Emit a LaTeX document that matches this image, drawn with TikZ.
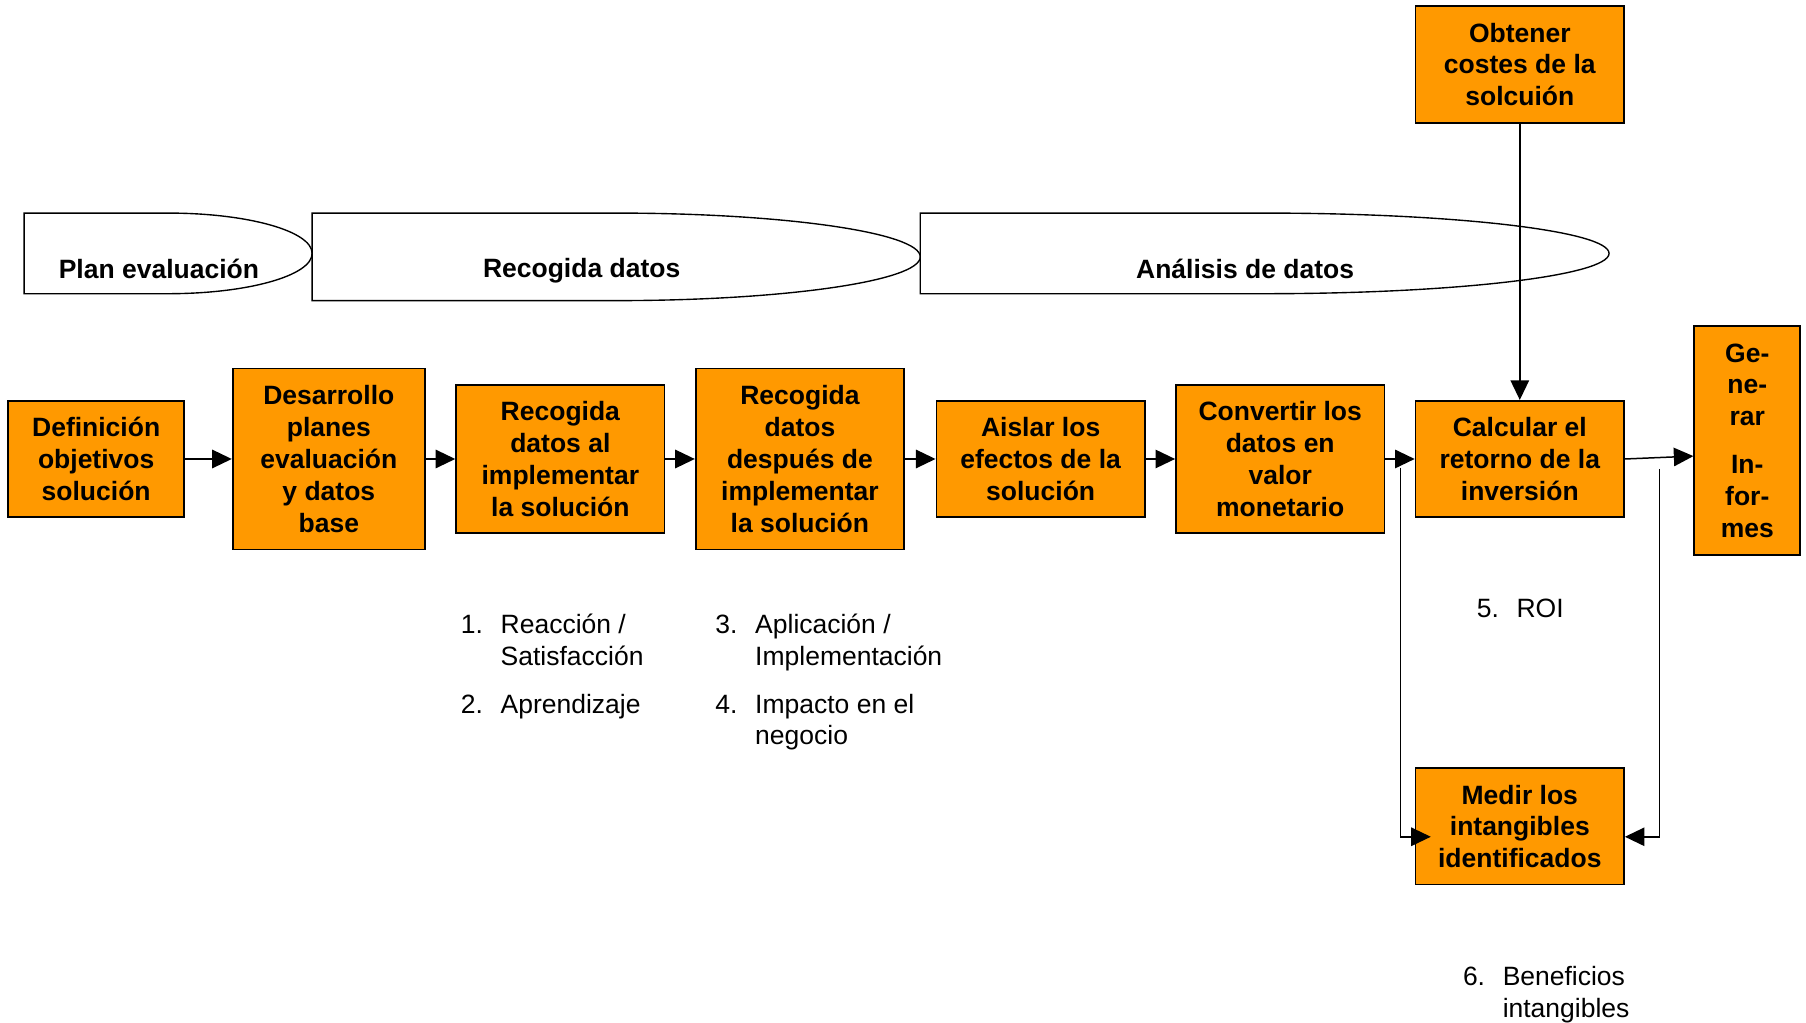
\documentclass[tikz,border=0pt]{standalone}
\usepackage{fontspec}
\setmainfont{Liberation Sans}
\usetikzlibrary{arrows.meta,calc}
\definecolor{boxorange}{RGB}{255,153,0}
\begin{document}
\begin{tikzpicture}[x=1pt,y=-1pt,
  txt/.style={font=\fontsize{23}{27.6}\selectfont},
  stepbox/.style={draw=black,line width=1.5pt,fill=boxorange,inner sep=0pt,align=center,
    font=\bfseries\fontsize{23}{27.6}\selectfont},
  banner/.style={draw=black,line width=1.2pt,fill=white},
  bannertext/.style={font=\bfseries\fontsize{23}{27.6}\selectfont,inner sep=0pt,anchor=base},
  listtext/.style={txt,inner sep=0pt,anchor=base west,align=left},
  conn/.style={line width=1.3pt},
  arr/.style={conn,-{Triangle[length=17pt,width=16pt]}}]
\useasboundingbox (0,0) rectangle (1568,888);

% phase banners: rectangle on the left, half ellipse on the right
\draw[banner] (21,185) -- (146,185) arc[start angle=-90,end angle=90,x radius=125,y radius=35]
  -- (21,255) -- cycle;
\draw[banner] (271,185) -- (535,185) arc[start angle=-90,end angle=90,x radius=264,y radius=38]
  -- (271,261) -- cycle;
\draw[banner] (799,185) -- (1098,185) arc[start angle=-90,end angle=90,x radius=299,y radius=35]
  -- (799,255) -- cycle;
\node[bannertext] (plan) at (138,242) {Plan evaluación};
\node[bannertext] (recog) at (505,241) {Recogida datos};
\node[bannertext] (anal) at (1081,242) {Análisis de datos};

% process steps
\node[stepbox,minimum width=153pt,minimum height=101pt] (def) at (83.5,398.5) {Definición\\objetivos\\solución};
\node[stepbox,minimum width=167pt,minimum height=157pt] (des) at (285.5,398.5) {Desarrollo\\planes\\evaluación\\y datos\\base};
\node[stepbox,minimum width=181pt,minimum height=129pt] (rec1) at (486.5,398.5) {Recogida\\datos al\\implementar\\la solución};
\node[stepbox,minimum width=181pt,minimum height=157pt] (rec2) at (694.5,398.5) {Recogida\\datos\\después de\\implementar\\la solución};
\node[stepbox,minimum width=181pt,minimum height=101pt] (ais) at (903.5,398.5) {Aislar los\\efectos de la\\solución};
\node[stepbox,minimum width=181pt,minimum height=129pt] (conv) at (1111.5,398.5) {Convertir los\\datos en\\valor\\monetario};
\node[stepbox,minimum width=181pt,minimum height=101pt] (calc) at (1319.5,398.5) {Calcular el\\retorno de la\\inversión};
\node[stepbox,minimum width=92pt,minimum height=199pt] (gen) at (1517,382.5) {Ge-\\ne-\\rar\\[14pt]In-\\for-\\mes};
\node[stepbox,minimum width=181pt,minimum height=102pt] (cost) at (1319.5,56) {Obtener\\costes de la\\solcuión};
\node[stepbox,minimum width=181pt,minimum height=101pt] (med) at (1319.5,717.5) {Medir los\\intangibles\\identificados};

% evaluation levels
\node[listtext] (lv12) at (400,550) {\begin{tabular}[t]{@{}p{34.5pt}@{}l@{}}1.&Reacción /\\&Satisfacción\\[14pt]2.&Aprendizaje\end{tabular}};
\node[listtext] (lv34) at (621,550) {\begin{tabular}[t]{@{}p{34.5pt}@{}l@{}}3.&Aplicación /\\&Implementación\\[14pt]4.&Impacto en el\\&negocio\end{tabular}};
\node[listtext] (lv5) at (1282,536) {\begin{tabular}[t]{@{}p{34.5pt}@{}l@{}}5.&ROI\end{tabular}};
\node[listtext] (lv6) at (1270,856) {\begin{tabular}[t]{@{}p{34.5pt}@{}l@{}}6.&Beneficios\\&intangibles\end{tabular}};

% connectors
\draw[arr] (def) -- (des);
\draw[arr] (des) -- (rec1);
\draw[arr] (rec1) -- (rec2);
\draw[arr] (rec2) -- (ais);
\draw[arr] (ais) -- (conv);
\draw[arr] (conv) -- (calc);
\draw[arr] (calc.east) -- ($(gen.west)+(0,13.5)$);
\draw[arr] (cost) -- (calc);
\coordinate (vl) at (1216,406);
\coordinate (vr) at (1441,407);
\draw[arr] (vl) |- ($(med.west)+(14,9)$);
\draw[arr] (vr) |- ($(med.east)+(0,9)$);
\end{tikzpicture}
\end{document}
